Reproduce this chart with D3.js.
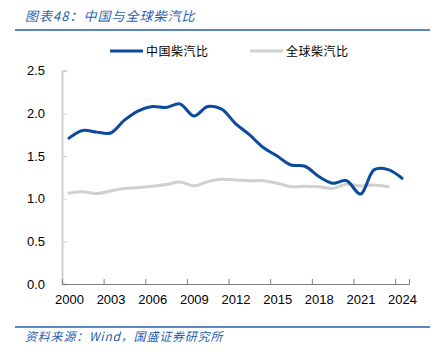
<!DOCTYPE html>
<html>
<head>
<meta charset="utf-8">
<script src="https://cdn.jsdelivr.net/npm/d3@7"></script>
<style>
  body { margin: 0; background: #fff; }
  svg { display: block; }
</style>
</head>
<body>
<div id="chart"></div>
<script>
// chart data
const years = d3.range(2000, 2025);
const chinaRatio = [1.71, 1.80, 1.78, 1.77, 1.92, 2.03, 2.08, 2.07, 2.11, 1.97,
  2.08, 2.05, 1.88, 1.75, 1.60, 1.50, 1.395, 1.38, 1.26, 1.18,
  1.21, 1.055, 1.34, 1.34, 1.24];
const globalRatio = [1.063, 1.08, 1.06, 1.09, 1.12, 1.13, 1.145, 1.165, 1.195, 1.15,
  1.20, 1.227, 1.22, 1.21, 1.21, 1.18, 1.14, 1.145, 1.14, 1.12,
  1.17, 1.15, 1.16, 1.14];
const yTicks = [0, 0.5, 1.0, 1.5, 2.0, 2.5];
const xLabels = [2000, 2003, 2006, 2009, 2012, 2015, 2018, 2021, 2024];
const seriesNames = ["中国柴汽比", "全球柴汽比"];

const W = 437, H = 361;
const blue = "#1f5fb0";
const chinaColor = "#0b4a9c";
const globalColor = "#d0d0d0";

const svg = d3.select("#chart").append("svg")
  .attr("width", W).attr("height", H);

// title + rules
svg.append("text")
  .attr("x", 25).attr("y", 21)
  .attr("fill", blue)
  .style("font-family", "'Noto Sans CJK SC', sans-serif")
  .style("font-size", "13px").style("font-style", "italic")
  .style("letter-spacing", "1px")
  .text("图表48：中国与全球柴汽比");

svg.append("line").attr("x1", 15).attr("x2", 430).attr("y1", 30).attr("y2", 30)
  .attr("stroke", blue).attr("stroke-width", 1.5);
svg.append("line").attr("x1", 15).attr("x2", 430).attr("y1", 327).attr("y2", 327)
  .attr("stroke", blue).attr("stroke-width", 1.5);

svg.append("text")
  .attr("x", 25).attr("y", 341)
  .attr("fill", blue)
  .style("font-family", "'Noto Sans CJK SC', sans-serif")
  .style("font-size", "12px").style("font-style", "italic")
  .style("letter-spacing", "0.8px")
  .text("资料来源：Wind，国盛证券研究所");

// scales
const x = d3.scaleLinear().domain([1999.5, 2024.5]).range([62, 409]);
const y = d3.scaleLinear().domain([0, 2.5]).range([284, 70.7]);

// y axis
const yAxis = svg.append("g")
  .attr("transform", `translate(${x(1999.5)},0)`)
  .call(d3.axisRight(y).tickValues(yTicks).tickSize(5).tickFormat(d3.format(".1f")));
yAxis.select(".domain").attr("stroke", "#d0d0d0").attr("stroke-width", 2);
yAxis.selectAll(".tick line").attr("stroke", "#d0d0d0");
yAxis.selectAll(".tick text")
  .attr("x", -17).attr("text-anchor", "end")
  .style("font-family", "'Liberation Sans', sans-serif")
  .style("font-size", "13px").attr("fill", "#000");

// x axis: tick marks at category edges, labels at centres
const xAxis = svg.append("g")
  .attr("transform", `translate(0,${y(0)})`)
  .call(d3.axisTop(x).tickValues(xLabels.map(d => d - 0.5)).tickSize(5).tickFormat(""));
xAxis.select(".domain").attr("stroke", "#808080");
xAxis.selectAll(".tick line").attr("stroke", "#808080");

svg.append("g")
  .attr("transform", `translate(0,${y(0)})`)
  .call(d3.axisBottom(x).tickValues(xLabels).tickSize(0).tickPadding(11).tickFormat(d3.format("d")))
  .call(g => g.select(".domain").remove())
  .selectAll("text")
  .style("font-family", "'Liberation Sans', sans-serif")
  .style("font-size", "13px").attr("fill", "#000");

// lines
const line = d3.line()
  .x((d, i) => x(years[i]))
  .y(d => y(d))
  .curve(d3.curveCatmullRom.alpha(0.5));

svg.append("path").datum(globalRatio)
  .attr("d", line).attr("fill", "none")
  .attr("stroke", globalColor).attr("stroke-width", 3)
  .attr("stroke-linecap", "round");

svg.append("path").datum(chinaRatio)
  .attr("d", line).attr("fill", "none")
  .attr("stroke", chinaColor).attr("stroke-width", 3)
  .attr("stroke-linecap", "round");

// legend
const legend = [
  { name: seriesNames[0], color: chinaColor, x: 110 },
  { name: seriesNames[1], color: globalColor, x: 250 }
];
const lg = svg.selectAll(".legend").data(legend).join("g")
  .attr("transform", d => `translate(${d.x},51)`);
lg.append("line").attr("x1", 0).attr("x2", 33)
  .attr("stroke", d => d.color).attr("stroke-width", 3);
lg.append("text")
  .attr("x", 36).attr("y", 4.5)
  .style("font-family", "'Noto Sans CJK SC', sans-serif")
  .style("font-size", "12px").style("letter-spacing", "0.5px")
  .attr("fill", "#000")
  .text(d => d.name);
</script>
</body>
</html>
